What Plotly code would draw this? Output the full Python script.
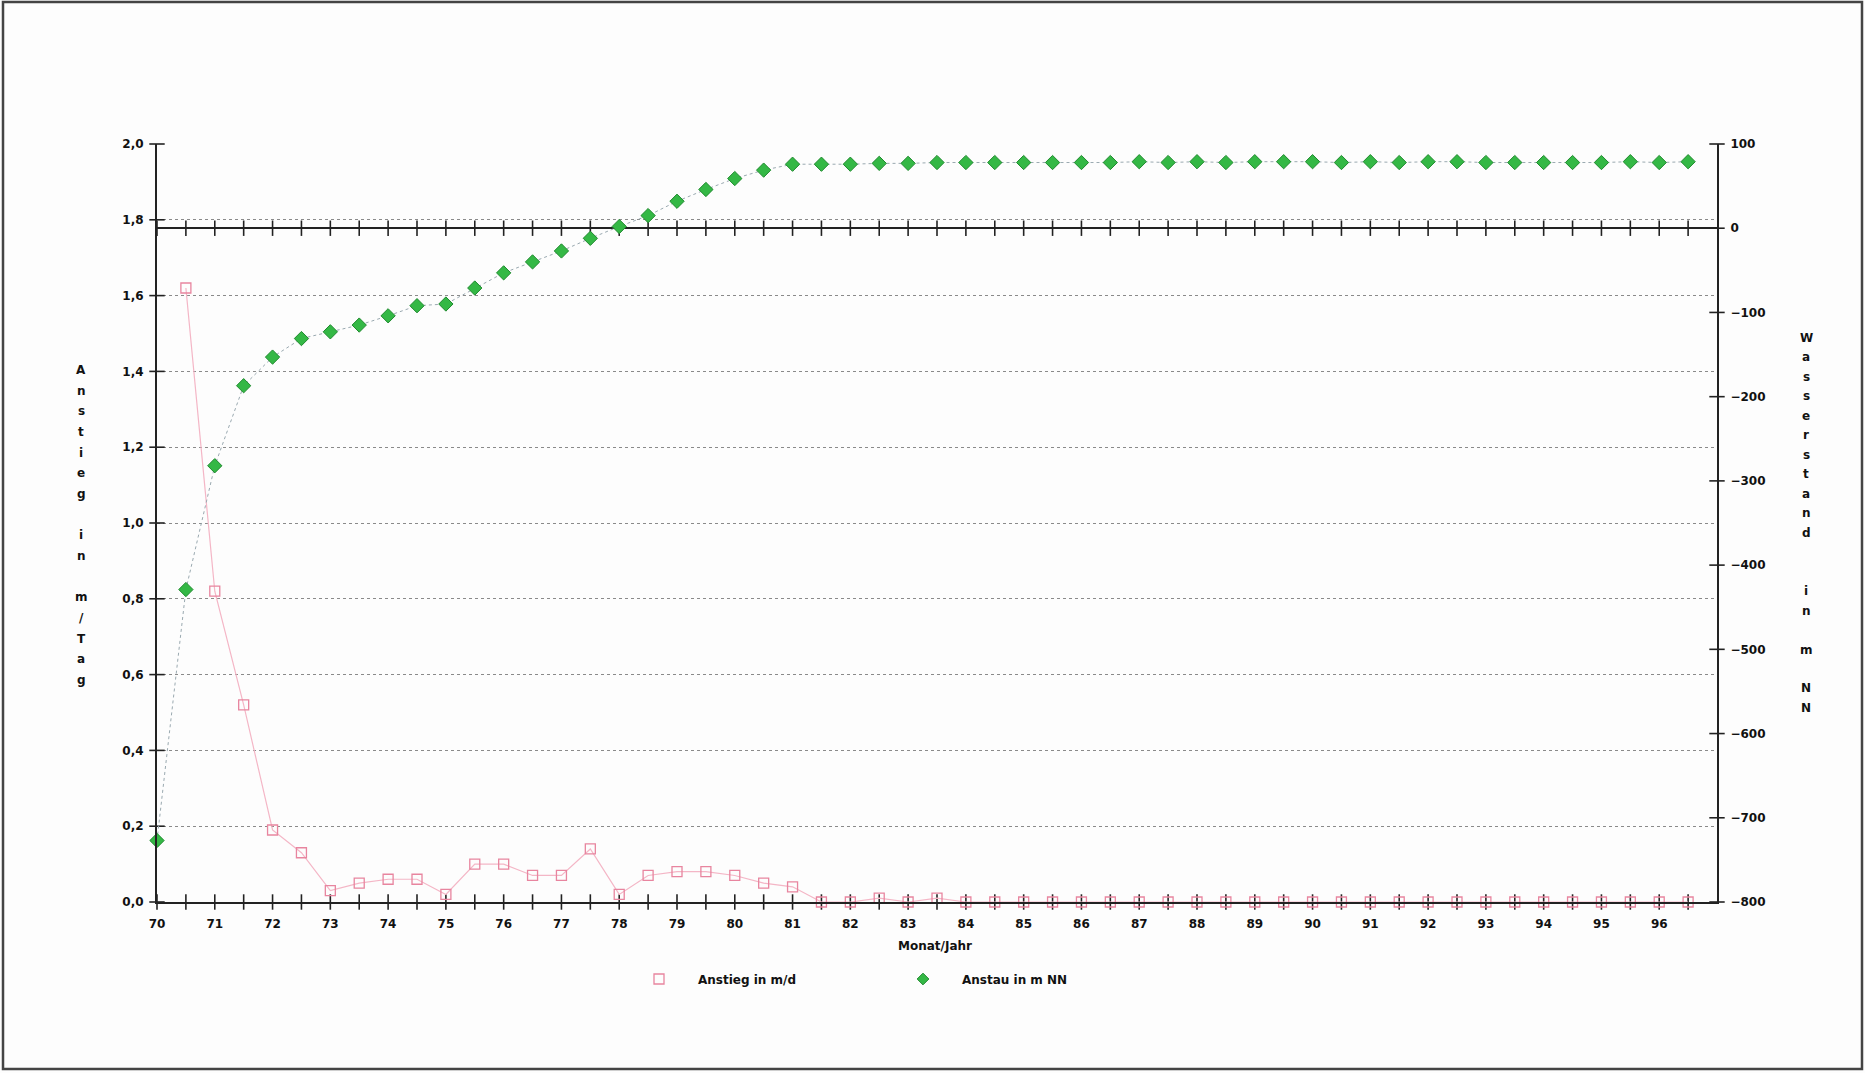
import plotly.graph_objects as go

# Half-year time axis, 1970 .. 1996.5
zeit = [70 + 0.5 * i for i in range(54)]

# Anstieg in m/Tag (ab Mitte 1970)
anstieg_zeit = zeit[1:]
anstieg = [1.62, 0.82, 0.52, 0.19, 0.13, 0.03, 0.05, 0.06, 0.06, 0.02,
           0.10, 0.10, 0.07, 0.07, 0.14, 0.02, 0.07, 0.08, 0.08, 0.07,
           0.05, 0.04, 0.00, 0.00, 0.01, 0.00, 0.01, 0.00, 0.00, 0.00,
           0.00, 0.00, 0.00, 0.00, 0.00, 0.00, 0.00, 0.00, 0.00, 0.00,
           0.00, 0.00, 0.00, 0.00, 0.00, 0.00, 0.00, 0.00, 0.00, 0.00,
           0.00, 0.00, 0.00]

# Anstau in m NN
anstau = [-727, -429, -282, -187, -153, -131, -123, -115, -104, -92,
          -90, -71, -53, -40, -27, -12, 2, 15, 32, 46,
          59, 69, 76, 76, 76, 77, 77, 78, 78, 78,
          78, 78, 78, 78, 79, 78, 79, 78, 79, 79,
          79, 78, 79, 78, 79, 79, 78, 78, 78, 78,
          78, 79, 78, 79]

# Axis ticks
x_ticks = [70 + 0.5 * i for i in range(55)]
x_labels = [str(int(v)) if v == int(v) and v < 97 else "" for v in x_ticks]
y_left_ticks = [0.0, 0.2, 0.4, 0.6, 0.8, 1.0, 1.2, 1.4, 1.6, 1.8, 2.0]
y_right_ticks = [-800, -700, -600, -500, -400, -300, -200, -100, 0, 100]

left_title = "Anstieg in m/Tag"
right_title = "Wasserstand  in m NN"

FONT = "DejaVu Sans"
PINK = "#e8859f"
PINK_LINE = "#f4b6c6"
GREEN = "#34b845"
INK = "#222"

# plot area in pixels
W, H = 1865, 1073
L, R, T, B = 157, 148, 144, 171
pw, ph = W - L - R, H - T - B


def px_x(px):
    return (px - L) / pw


def px_y(py):
    return (H - B - py) / ph


fig = go.Figure()

# crossing tick marks on the bottom axis, the right-axis zero line and both y axes
tick_marker_ns = dict(symbol="line-ns-open", size=11, color=INK, line=dict(width=1.6, color=INK))
tick_marker_ew = dict(symbol="line-ew-open", size=11, color=INK, line=dict(width=1.6, color=INK))
fig.add_trace(go.Scatter(
    x=x_ticks[:-1], y=[0] * (len(x_ticks) - 1), mode="markers", marker=tick_marker_ns,
    showlegend=False, hoverinfo="skip", yaxis="y", cliponaxis=False,
))
fig.add_trace(go.Scatter(
    x=x_ticks[:-1], y=[0] * (len(x_ticks) - 1), mode="markers", marker=tick_marker_ns,
    showlegend=False, hoverinfo="skip", yaxis="y2", cliponaxis=False,
))
fig.add_trace(go.Scatter(
    x=[70] * len(y_left_ticks), y=y_left_ticks, mode="markers", marker=tick_marker_ew,
    showlegend=False, hoverinfo="skip", yaxis="y", cliponaxis=False,
))
fig.add_trace(go.Scatter(
    x=[97] * len(y_right_ticks), y=y_right_ticks, mode="markers", marker=tick_marker_ew,
    showlegend=False, hoverinfo="skip", yaxis="y2", cliponaxis=False,
))

fig.add_trace(go.Scatter(
    x=anstieg_zeit, y=anstieg, mode="lines+markers", name="Anstieg in m/d",
    line=dict(color=PINK_LINE, width=1.2),
    marker=dict(symbol="square-open", size=10, color=PINK, line=dict(width=1.3)),
    showlegend=False, yaxis="y", cliponaxis=False,
))

fig.add_trace(go.Scatter(
    x=zeit, y=anstau, mode="lines+markers", name="Anstau in m NN",
    line=dict(color="#9aa9b0", width=1, dash="dot"),
    marker=dict(symbol="diamond", size=11, color=GREEN,
                line=dict(width=1, color="#1f8a2e")),
    showlegend=False, yaxis="y2", cliponaxis=False,
))

# legend entries (marker only)
fig.add_trace(go.Scatter(
    x=[None], y=[None], mode="markers", name="Anstieg in m/d",
    marker=dict(symbol="square-open", size=10, color=PINK, line=dict(width=1.3)),
))
fig.add_trace(go.Scatter(
    x=[None], y=[None], mode="markers", name="Anstau in m NN",
    marker=dict(symbol="diamond", size=9, color=GREEN,
                line=dict(width=1, color="#1f8a2e")),
))

tickfont = dict(family=FONT, size=12, color="#111", weight="bold")

fig.update_layout(
    width=W, height=H,
    margin=dict(l=L, r=R, t=T, b=B),
    paper_bgcolor="#fdfdfd",
    plot_bgcolor="#fdfdfd",
    separators=",.",
    font=dict(family=FONT, size=12, color="#111"),
    xaxis=dict(
        range=[70, 97], tickmode="array", tickvals=x_ticks, ticktext=x_labels,
        ticks="", showline=True, linecolor=INK, linewidth=2, showgrid=False,
        zeroline=False, tickfont=tickfont, ticklabelstandoff=10,
    ),
    yaxis=dict(
        range=[0, 2.0], tickmode="array", tickvals=y_left_ticks, tickformat=".1f",
        ticks="", showline=True, linecolor=INK, linewidth=2,
        showgrid=True, gridcolor="#8a8a8a", griddash="dot", gridwidth=1,
        zeroline=False, tickfont=tickfont, ticklabelstandoff=9,
    ),
    yaxis2=dict(
        range=[-800, 100], tickmode="array", tickvals=y_right_ticks,
        overlaying="y", side="right", anchor="x",
        ticks="", showline=True, linecolor=INK, linewidth=2, showgrid=False,
        zeroline=True, zerolinecolor=INK, zerolinewidth=2,
        tickfont=tickfont, ticklabelstandoff=9,
    ),
    legend=dict(
        orientation="h", x=px_x(620), xanchor="left", y=px_y(979), yanchor="middle",
        font=dict(family=FONT, size=12, color="#111", weight="bold"),
        bgcolor="rgba(0,0,0,0)", entrywidth=181, itemwidth=68,
    ),
    showlegend=True,
)

title_font = dict(family=FONT, size=12, color="#111", weight="bold")
annotations = []
# x axis title
annotations.append(dict(
    text="Monat/Jahr", x=px_x(935), y=px_y(946), xref="paper", yref="paper",
    xanchor="center", yanchor="middle", showarrow=False, font=title_font,
))
# vertical stacked axis titles, one character per row
for i, ch in enumerate(left_title):
    if ch.strip():
        annotations.append(dict(
            text=ch, x=px_x(81), y=px_y(370 + i * 20.67), xref="paper", yref="paper",
            xanchor="center", yanchor="middle", showarrow=False, font=title_font,
        ))
for i, ch in enumerate(right_title):
    if ch.strip():
        annotations.append(dict(
            text=ch, x=px_x(1806), y=px_y(338 + i * 19.47), xref="paper", yref="paper",
            xanchor="center", yanchor="middle", showarrow=False, font=title_font,
        ))
fig.update_layout(annotations=annotations)

# outer frame
fig.add_shape(
    type="rect", xref="paper", yref="paper",
    x0=px_x(3), x1=px_x(1862), y0=px_y(1069), y1=px_y(2),
    line=dict(color="#444", width=2.5), fillcolor="rgba(0,0,0,0)", layer="above",
)

fig.write_html("out.html")
